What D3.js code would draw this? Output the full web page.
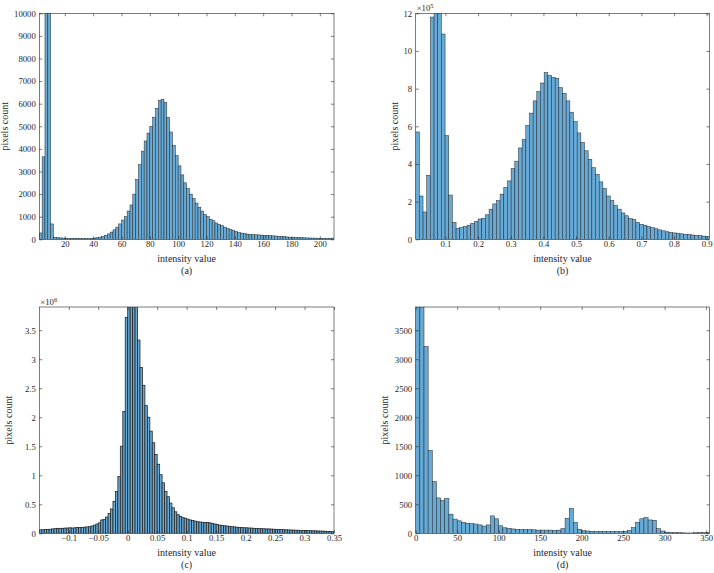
<!DOCTYPE html>
<html>
<head>
<meta charset="utf-8">
<script src="https://cdn.jsdelivr.net/npm/d3@7"></script>
<style>
    body { margin: 0; background: #fff; }
</style>
</head>
<body>
<svg id="chart" width="714" height="573"></svg>
<script>

// DATA (bar heights)

// (a) bins of width 2 starting at 2
const countsA = [
    280, 3650, 15000, 14000, 680, 90, 70, 60, 55, 50,
    45, 45, 40, 40, 35, 35, 35, 40, 45, 55,
    70, 95, 130, 180, 240, 320, 420, 540, 680, 850,
    1000, 1250, 1520, 2000, 2650, 3300, 3900, 4350, 4700, 5000,
    5400, 5800, 6150, 6200, 6050, 5400, 4750, 4150, 3700, 3250,
    2850, 2500, 2250, 2000, 1800, 1600, 1420, 1250, 1100, 1000,
    880, 820, 720, 660, 600, 540, 480, 430, 380, 340,
    300, 275, 250, 230, 215, 205, 200, 195, 185, 180,
    170, 160, 155, 145, 135, 125, 115, 105, 95, 90,
    85, 78, 72, 66, 62, 58, 55, 50, 48, 46,
    45, 45, 48, 52
];
const binsA = { start: 2, width: 2 };
const xTicksA = [20, 40, 60, 80, 100, 120, 140, 160, 180, 200];
const yTicksA = [0, 1000, 2000, 3000, 4000, 5000, 6000, 7000, 8000, 9000, 10000];

// (b) counts in units of 10^5
const countsB = [
    5.7, 2.3, 1.45, 3.4, 11.8, 12.4, 12.3, 10.9, 5.5, 2.35,
    0.9, 0.58, 0.62, 0.68, 0.75, 0.85, 0.95, 1.08, 1.12, 1.3,
    1.6, 1.88, 2.05, 2.4, 2.75, 3.1, 3.75, 4.15, 4.85, 5.3,
    6.05, 6.7, 7.35, 7.85, 8.3, 8.85, 8.7, 8.6, 8.55, 8.05,
    7.75, 7.35, 6.75, 6.25, 5.65, 5.15, 4.7, 4.25, 3.8, 3.45,
    3.05, 2.7, 2.3, 2.05, 1.8, 1.6, 1.4, 1.25, 1.1, 1.05,
    0.9, 0.8, 0.75, 0.68, 0.62, 0.56, 0.5, 0.45, 0.4, 0.37,
    0.34, 0.31, 0.29, 0.27, 0.25, 0.23, 0.21, 0.19, 0.17, 0.16
];
const binsB = { start: 0.009, width: 0.011238 };
const xTicksB = [0.1, 0.2, 0.3, 0.4, 0.5, 0.6, 0.7, 0.8, 0.9];
const yTicksB = [0, 2, 4, 6, 8, 10, 12];

// (c) counts in units of 10^6
const countsC = [
    0.06, 0.06, 0.065, 0.065, 0.07, 0.075, 0.08, 0.085, 0.085, 0.085,
    0.09, 0.09, 0.095, 0.09, 0.095, 0.1, 0.1, 0.1, 0.105, 0.11,
    0.115, 0.125, 0.14, 0.16, 0.18, 0.23, 0.24, 0.28, 0.34, 0.42,
    0.55, 0.72, 0.98, 1.5, 2.1, 3.72, 4.5, 4.6, 4.4, 4.0,
    3.33, 2.86, 2.55, 2.2, 2.0, 1.76, 1.56, 1.36, 1.19, 1.01,
    0.87, 0.72, 0.63, 0.52, 0.44, 0.37, 0.32, 0.29, 0.27, 0.26,
    0.245, 0.23, 0.22, 0.21, 0.2, 0.195, 0.19, 0.185, 0.185, 0.18,
    0.17, 0.16, 0.15, 0.14, 0.135, 0.13, 0.125, 0.12, 0.115, 0.11,
    0.105, 0.1, 0.1, 0.095, 0.095, 0.09, 0.09, 0.085, 0.085, 0.08,
    0.08, 0.078, 0.075, 0.075, 0.072, 0.07, 0.068, 0.066, 0.064, 0.062,
    0.06, 0.058, 0.056, 0.055, 0.053, 0.052, 0.05, 0.048, 0.047, 0.046,
    0.045, 0.043, 0.042, 0.04, 0.038, 0.037, 0.035, 0.033, 0.03, 0.028
];
const binsC = { start: -0.15, width: 0.0041667 };
const xTicksC = [-0.1, -0.05, 0, 0.05, 0.1, 0.15, 0.2, 0.25, 0.3, 0.35];
const yTicksC = [0, 0.5, 1, 1.5, 2, 2.5, 3, 3.5];

// (d) bins of width 5 starting at 0
const countsD = [
    4600, 4500, 3220, 1430, 890, 610, 570, 600, 330, 245,
    215, 190, 175, 165, 160, 145, 125, 145, 300, 250,
    130, 95, 85, 75, 70, 65, 65, 65, 60, 55,
    55, 55, 55, 50, 55, 80, 260, 430, 190, 70,
    45, 40, 35, 30, 35, 30, 30, 30, 30, 30,
    35, 50, 100, 190, 250, 270, 230, 225, 80, 40,
    20, 15, 12, 10, 8, 5, 5, 10, 12, 12,
    15
];
const binsD = { start: 0, width: 5 };
const xTicksD = [0, 50, 100, 150, 200, 250, 300, 350];
const yTicksD = [0, 500, 1000, 1500, 2000, 2500, 3000, 3500];


// HISTOGRAM PANEL

const serif = '"Liberation Serif", "DejaVu Serif", serif';
const ink = "#262626";

const svg = d3.select("#chart");

function drawHistogram(p) {

    let g = svg.append("g");

    let x = d3.scaleLinear().domain(p.xDomain).range([p.left, p.right]);
    let y = d3.scaleLinear().domain(p.yDomain).range([p.bottom, p.top]);

    let clipId = "clip" + p.caption.replace(/\W/g, "");

    g.append("clipPath")
        .attr("id", clipId)
        .append("rect")
        .attr("x", p.left)
        .attr("y", p.top)
        .attr("width", p.right - p.left)
        .attr("height", p.bottom - p.top);

    // bars
    g.append("g")
        .attr("clip-path", "url(#" + clipId + ")")
        .selectAll("rect")
        .data(p.counts)
        .join("rect")
        .attr("x", (d, i) => x(p.bins.start + i * p.bins.width))
        .attr("width", (d, i) => x(p.bins.start + (i + 1) * p.bins.width) - x(p.bins.start + i * p.bins.width))
        .attr("y", d => y(d))
        .attr("height", d => y(0) - y(d))
        .attr("fill", "rgb(102,170,215)")
        .attr("stroke", ink)
        .attr("stroke-width", p.edge);

    // axes, ticks pointing inwards on all four sides
    let bottom = g.append("g")
        .attr("transform", "translate(0," + p.bottom + ")")
        .call(d3.axisBottom(x).tickValues(p.xTicks).tickSize(-3).tickPadding(1.5).tickFormat(d3.format("~g")));

    let top = g.append("g")
        .attr("transform", "translate(0," + p.top + ")")
        .call(d3.axisTop(x).tickValues(p.xTicks).tickSize(-3).tickFormat(""));

    let left = g.append("g")
        .attr("transform", "translate(" + p.left + ",0)")
        .call(d3.axisLeft(y).tickValues(p.yTicks).tickSize(-3).tickPadding(3.5).tickFormat(d3.format("~g")));

    let right = g.append("g")
        .attr("transform", "translate(" + p.right + ",0)")
        .call(d3.axisRight(y).tickValues(p.yTicks).tickSize(-3).tickFormat(""));

    for (let axis of [bottom, top, left, right]) {
        axis.attr("font-family", null);
        axis.select(".domain").remove();
        axis.selectAll("line").attr("stroke", ink).attr("stroke-width", 0.6);
        axis.selectAll("text").attr("font-size", 8.7).attr("fill", ink);
    }

    // box
    g.append("rect")
        .attr("x", p.left)
        .attr("y", p.top)
        .attr("width", p.right - p.left)
        .attr("height", p.bottom - p.top)
        .attr("fill", "none")
        .attr("stroke", ink)
        .attr("stroke-width", 0.6);

    let midX = (p.left + p.right) / 2;

    g.append("text")
        .attr("x", midX)
        .attr("y", p.bottom + 22.5)
        .attr("text-anchor", "middle")
        .attr("font-size", 10)
        .text("intensity value");

    g.append("text")
        .attr("x", midX)
        .attr("y", p.bottom + 34.5)
        .attr("text-anchor", "middle")
        .attr("font-size", 10)
        .text(p.caption);

    g.append("text")
        .attr("transform", "translate(" + p.ylabelX + "," + ((p.top + p.bottom) / 2) + ") rotate(-90)")
        .attr("text-anchor", "middle")
        .attr("font-size", 10)
        .text("pixels count");

    // exponent label like x10^5
    if (p.exponent) {
        let t = g.append("text")
            .attr("x", p.left + 1)
            .attr("y", p.top - 2)
            .attr("font-size", 8.7);
        t.append("tspan").text("\u00d710");
        t.append("tspan").attr("dy", -3.5).attr("font-size", 6.5).text(p.exponent);
    }

    g.selectAll("text").style("font-family", serif).style("fill", ink);

}


drawHistogram({
    caption: "(a)", counts: countsA, bins: binsA, edge: 0.5,
    xDomain: [2, 210], yDomain: [0, 10000],
    xTicks: xTicksA, yTicks: yTicksA,
    left: 39.3, right: 334, top: 13.3, bottom: 239.3, ylabelX: 8
});

drawHistogram({
    caption: "(b)", counts: countsB, bins: binsB, edge: 0.5,
    xDomain: [0.009, 0.908], yDomain: [0, 12],
    xTicks: xTicksB, yTicks: yTicksB, exponent: "5",
    left: 415.7, right: 709.3, top: 13.3, bottom: 239.3, ylabelX: 398
});

drawHistogram({
    caption: "(c)", counts: countsC, bins: binsC, edge: 0.8,
    xDomain: [-0.15, 0.35], yDomain: [0, 3.9],
    xTicks: xTicksC, yTicks: yTicksC, exponent: "6",
    left: 39.3, right: 334, top: 307, bottom: 533.3, ylabelX: 11.5
});

drawHistogram({
    caption: "(d)", counts: countsD, bins: binsD, edge: 0.5,
    xDomain: [0, 354], yDomain: [0, 3900],
    xTicks: xTicksD, yTicks: yTicksD,
    left: 415.7, right: 709.5, top: 307, bottom: 533.3, ylabelX: 388
});

</script>
</body>
</html>
